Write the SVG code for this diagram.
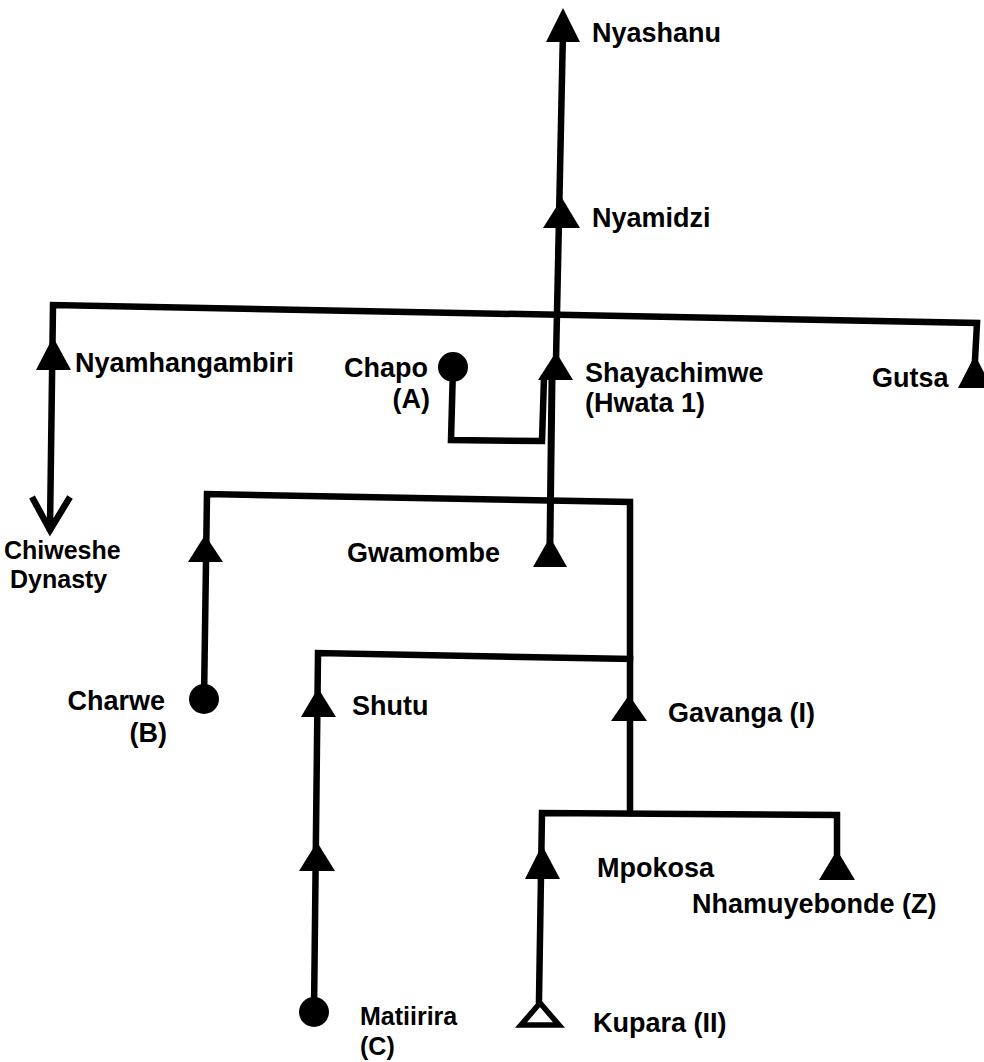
<svg xmlns="http://www.w3.org/2000/svg" width="984" height="1062" viewBox="0 0 984 1062">
<style>
.ln{fill:none;stroke:#000;stroke-width:6.5;stroke-linejoin:miter;stroke-linecap:square}
.tri{fill:#000}
.dot{fill:#000}
.open{fill:#fff;stroke:#000;stroke-width:5.5;stroke-linejoin:miter}
text{font-family:"Liberation Sans",Arial,Helvetica,sans-serif;font-weight:bold;font-size:27px;fill:#000}
.tight{font-size:25px}
</style>
<rect width="984" height="1062" fill="#fff"/>
<g id="connectors">
  <path class="ln" d="M563,30 L556,360"/>
  <path class="ln" d="M552,378 L550,540" style="stroke-width:7"/>
  <path class="ln" d="M453,367 L451,440 L542,441 L544,378"/>
  <path class="ln" d="M50,528 L53,305 L977,323 L975,360"/>
  <path class="ln" d="M32,497 L50,530 L70,497" style="stroke-linecap:butt"/>
  <path class="ln" d="M204,699 L207,494 L630,502 L630,813"/>
  <path class="ln" d="M314,1012 L318,653 L630,659"/>
  <path class="ln" d="M539,1000 L542,813 L837,815 L837,852"/>
</g>
<g id="nyashanu"><polygon class="tri" points="563,8 546,42 580,42"/><text x="592" y="42">Nyashanu</text></g>
<g id="nyamidzi"><polygon class="tri" points="562,198 543,228 580,228"/><text x="592" y="227">Nyamidzi</text></g>
<g id="nyamhangambiri"><polygon class="tri" points="53,337 36,370 71,370"/><text x="75" y="372">Nyamhangambiri</text></g>
<g id="chiweshe"><text class="tight" x="4" y="559">Chiweshe</text><text class="tight" x="10" y="588">Dynasty</text></g>
<g id="chapo"><circle class="dot" cx="453" cy="367" r="15"/><text x="428" y="377" text-anchor="end">Chapo</text><text x="430" y="408" text-anchor="end">(A)</text></g>
<g id="shayachimwe"><polygon class="tri" points="556,352 538,380 573,380"/><text x="585" y="382">Shayachimwe</text><text x="585" y="412">(Hwata 1)</text></g>
<g id="gutsa"><polygon class="tri" points="975,355 958,388 992,388"/><text x="872" y="387">Gutsa</text></g>
<g id="gwamombe"><polygon class="tri" points="550,537 533,567 567,567"/><text x="347" y="562">Gwamombe</text></g>
<g id="charwe"><polygon class="tri" points="205,535 188,562 223,562"/><circle class="dot" cx="204" cy="699" r="15"/><text x="165" y="710" text-anchor="end">Charwe</text><text x="167" y="742" text-anchor="end">(B)</text></g>
<g id="shutu"><polygon class="tri" points="318,688 301,717 336,717"/><text x="352" y="715">Shutu</text></g>
<g id="shutu-son"><polygon class="tri" points="317,842 299,871 335,871"/></g>
<g id="matiirira"><circle class="dot" cx="314" cy="1012" r="15"/><text class="tight" x="360" y="1025">Matiirira</text><text class="tight" x="360" y="1055">(C)</text></g>
<g id="gavanga"><polygon class="tri" points="629,695 611,721 647,721"/><text x="668" y="722">Gavanga (I)</text></g>
<g id="mpokosa"><polygon class="tri" points="542,845 525,879 560,879"/><text x="597" y="877">Mpokosa</text></g>
<g id="nhamuyebonde"><polygon class="tri" points="837,850 819,880 855,880"/><text x="692" y="913">Nhamuyebonde (Z)</text></g>
<g id="kupara"><polygon class="open" points="540,1003 521,1025 559,1025"/><text x="593" y="1032">Kupara (II)</text></g>
</svg>
